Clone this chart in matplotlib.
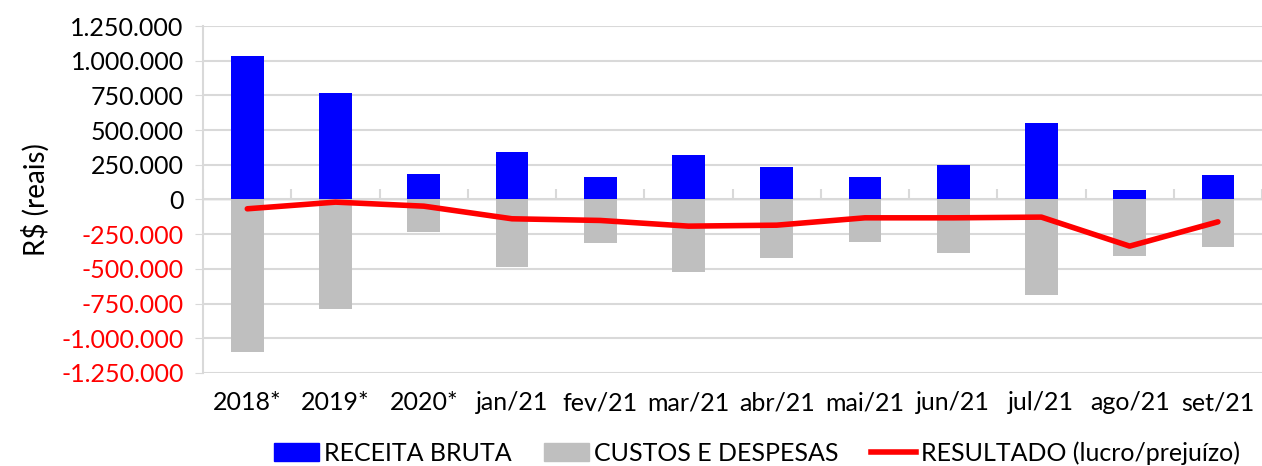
import numpy as np
import matplotlib
matplotlib.use('Agg')
import matplotlib.pyplot as plt
from matplotlib.patches import Patch
from matplotlib.lines import Line2D

categories = ['2018*', '2019*', '2020*', 'jan/21', 'fev/21', 'mar/21',
              'abr/21', 'mai/21', 'jun/21', 'jul/21', 'ago/21', 'set/21']
receita = [1035000, 769000, 187000, 339000, 159000, 322000,
           231000, 159000, 252000, 553000, 70000, 175000]
custos = [-1100000, -792000, -235000, -483000, -310000, -519000,
          -418000, -303000, -389000, -689000, -408000, -339000]
resultado = [-67000, -19000, -48000, -139000, -151000, -192000,
             -185000, -132000, -132000, -127000, -336000, -161000]
yticks = np.arange(-1250000, 1250001, 250000)

plt.rcParams['font.family'] = ['Lato', 'DejaVu Sans']
plt.rcParams['font.size'] = 18

fig = plt.figure(figsize=(12.62, 4.66), dpi=100)
ax = fig.add_axes([0.161, 0.1996, 0.839, 0.7446])

x = np.arange(len(categories))
width = 0.37
ax.bar(x, receita, width=width, color='#0000ff', zorder=3)
ax.bar(x, custos, width=width, color='#bfbfbf', zorder=3)
ax.plot(x, resultado, color='#ff0000', linewidth=4, solid_capstyle='round',
        zorder=4)

ax.set_xlim(-0.5, len(categories) - 0.5)
ax.set_ylim(-1250000, 1250000)
ax.set_yticks(yticks)


def fmt(v):
    if v == 0:
        return '0'
    return '{:,.0f}'.format(v).replace(',', '.')


ax.set_yticklabels([fmt(v) for v in yticks])
for lab, v in zip(ax.get_yticklabels(), yticks):
    if v < 0:
        lab.set_color('#ff0000')

ax.set_xticks(x)
ax.set_xticklabels(categories)
ax.tick_params(axis='x', length=0, pad=13)
ax.tick_params(axis='y', length=6, color='#d9d9d9', pad=8)

ax.grid(True, axis='y', color='#d9d9d9', linewidth=1.5, zorder=0)
for s in ['top', 'right', 'bottom']:
    ax.spines[s].set_visible(False)
ax.spines['left'].set_color('#d9d9d9')
ax.spines['left'].set_linewidth(1.5)

# category boundary ticks on the zero line
sec = ax.secondary_xaxis(0.5)
sec.set_xticks(np.arange(len(categories) + 1) - 0.5)
sec.set_xticklabels([])
sec.tick_params(length=7, color='#d9d9d9', width=1.5)
sec.spines['bottom'].set_visible(False)

ax.set_ylabel('R$ (reais)', fontsize=20, labelpad=8)

handles = [Patch(color='#0000ff'), Patch(color='#bfbfbf'),
           Line2D([0], [0], color='#ff0000', linewidth=4)]
labels = ['RECEITA BRUTA', 'CUSTOS E DESPESAS', 'RESULTADO (lucro/prejuízo)']
fig.legend(handles, labels, loc='center', bbox_to_anchor=(0.6, 0.028),
           ncol=3, frameon=False, handlelength=1.8, handletextpad=0.2,
           columnspacing=1.3, fontsize=18)

fig.savefig('out.png', dpi=100)
